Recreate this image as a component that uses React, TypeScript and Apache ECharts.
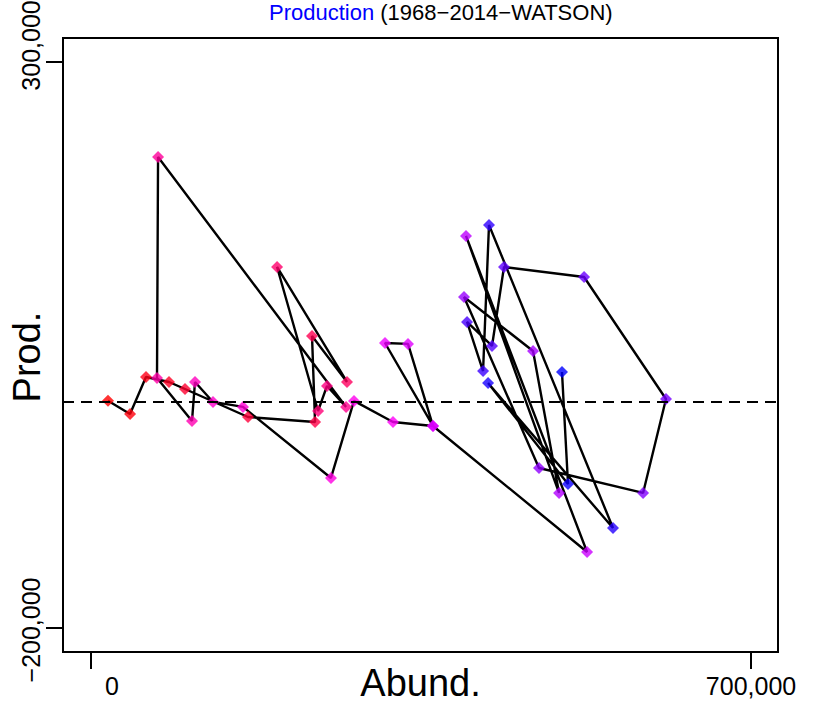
import React, { useEffect, useRef } from "react";
import * as echarts from "echarts";

// Abundance (x) and production (y), in time order (1968 -> 2014)
const abund = [
  18000, 41400, 58300, 82700, 99700, 166500, 237600, 234400, 271500, 197300,
  240800, 250300, 270500, 71100, 70000, 107100, 110300, 129400, 161200, 254500,
  278900, 320300, 362700, 311800, 336200, 362700, 526100, 397700, 496400, 468800,
  395600, 475100, 585500, 609800, 522900, 438000, 425300, 398800, 415800, 422100,
  553600, 421100, 505900, 499500,
];
const prod = [
  500, -11100, 21500, 17100, 10900, -13800, -18200, 57700, 17100, 118600,
  -8500, 13600, -4900, 215700, 20700, -17300, 17100, -500, -4900, -67600,
  400, -18200, -21700, 51500, 50700, -21700, -132900, 146000, -80800, 44500,
  92100, -58800, -80800, 2100, 109800, 118600, 48900, 70100, 26800, 155700,
  -111700, 16200, -72900, 25900,
];
const xTicks = [0, 700000];
const yTicks = [-200000, 300000];
const xTickLabels = ["0", "700,000"];
const yTickLabels = ["\u2212200,000", "300,000"];

const FONT = "Liberation Sans, Arial, Helvetica, sans-serif";

function rampColor(i: number, n: number): string {
  const t = n > 1 ? i / (n - 1) : 0;
  let r = 255;
  let b = 255;
  if (t < 0.5) b = Math.round(510 * t);
  else r = Math.round(255 * (1 - (t - 0.5) * 2));
  return `rgb(${r},0,${b})`;
}

export default function App() {
  const ref = useRef<HTMLDivElement>(null);
  useEffect(() => {
    if (!ref.current) return;
    const chart = echarts.init(ref.current, undefined, { renderer: "svg" });
    const pts = abund.map((x, i) => [x, prod[i]]);
    const n = pts.length;
    const scatterData = pts.map((p, i) => ({
      value: p,
      itemStyle: { color: rampColor(i, n) },
    }));
    chart.setOption({
      animation: false,
      backgroundColor: "#fff",
      title: {
        left: 269,
        top: 1,
        padding: 0,
        text: "{b|Production} {k|(1968\u22122014\u2212WATSON)}",
        textStyle: {
          fontFamily: FONT,
          fontSize: 22,
          fontWeight: "normal",
          rich: {
            b: { color: "#0000ff", fontSize: 22, fontFamily: FONT },
            k: { color: "#000", fontSize: 22, fontFamily: FONT },
          },
        },
      },
      grid: {
        left: 63,
        right: 37,
        top: 38,
        bottom: 51,
        containLabel: false,
        outerBoundsMode: "none",
        show: true,
        borderColor: "#000",
        borderWidth: 2,
        backgroundColor: "transparent",
      },
      xAxis: {
        type: "value",
        min: -29700,
        max: 728600,
        splitLine: { show: false },
        axisLine: { show: false, onZero: false },
        axisTick: {
          show: true,
          customValues: xTicks,
          length: 17,
          lineStyle: { color: "#000", width: 2 },
        },
        axisLabel: {
          customValues: xTicks,
          margin: 21,
          color: "#000",
          fontFamily: FONT,
          fontSize: 25,
          lineHeight: 25,
          formatter: (v: number) => {
            const idx = xTicks.indexOf(v);
            const s = idx >= 0 ? xTickLabels[idx] : "";
            return v === 0 ? `{z|${s}}` : `{n|${s}}`;
          },
          rich: {
            z: { fontSize: 25, fontFamily: FONT, color: "#000", padding: [0, 0, 0, 42] },
            n: { fontSize: 25, fontFamily: FONT, color: "#000" },
          },
        },
        name: "Abund.",
        nameLocation: "middle",
        nameGap: 16,
        nameMoveOverlap: false,
        nameTextStyle: { color: "#000", fontFamily: FONT, fontSize: 38, lineHeight: 30 },
      },
      yAxis: {
        type: "value",
        min: -221200,
        max: 320700,
        splitLine: { show: false },
        axisLine: { show: false, onZero: false },
        axisTick: {
          show: true,
          customValues: yTicks,
          length: 17,
          lineStyle: { color: "#000", width: 2 },
        },
        axisLabel: {
          customValues: yTicks,
          rotate: 90,
          margin: 20,
          color: "#000",
          fontFamily: FONT,
          fontSize: 25,
          lineHeight: 25,
          formatter: (v: number) => {
            const idx = yTicks.indexOf(v);
            const s = idx >= 0 ? yTickLabels[idx] : "";
            return v > 0 ? `{u|${s}}` : `{d|${s}}`;
          },
          rich: {
            u: { fontSize: 25, fontFamily: FONT, color: "#000", padding: [0, 0, 0, 32] },
            d: { fontSize: 25, fontFamily: FONT, color: "#000", padding: [0, 4, 0, 0] },
          },
        },
      },
      graphic: [
        {
          type: "text",
          x: 27,
          y: 357,
          rotation: Math.PI / 2,
          style: {
            text: "Prod.",
            font: `38px ${FONT}`,
            fill: "#000",
            textAlign: "center",
            textVerticalAlign: "middle",
          },
        },
      ],
      series: [
        {
          type: "line",
          data: pts,
          showSymbol: false,
          symbol: "none",
          lineStyle: { color: "#000", width: 2.4 },
          z: 2,
          markLine: {
            silent: true,
            symbol: "none",
            label: { show: false },
            lineStyle: { color: "#000", type: [11, 7], width: 2 },
            data: [{ yAxis: 0 }],
          },
        },
        {
          type: "scatter",
          data: scatterData,
          symbol: "diamond",
          symbolSize: [12, 12],
          z: 3,
        },
      ],
    });
    return () => chart.dispose();
  }, []);
  return (
    <div
      ref={ref}
      style={{ position: "fixed", left: 0, top: 0, width: 815, height: 703 }}
    />
  );
}
